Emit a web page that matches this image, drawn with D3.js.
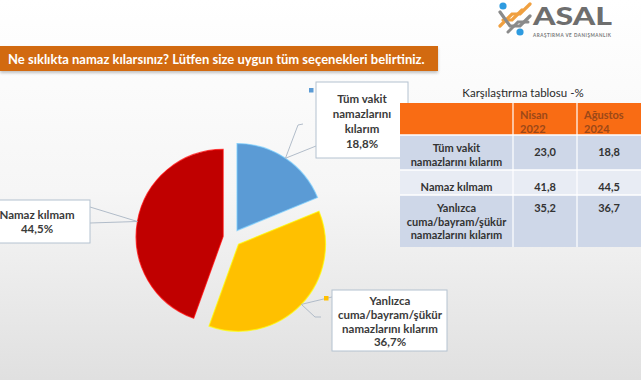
<!DOCTYPE html>
<html><head><meta charset="utf-8">
<script src="https://cdn.jsdelivr.net/npm/d3@7"></script>
<style>
html,body{margin:0;padding:0;overflow:hidden;}
svg{display:block;font-family:Lato,"Open Sans",sans-serif;}
</style></head>
<body>
<svg id="chart" width="641" height="380"></svg>
<script>
// ---- data ----
const titleText = "Ne sıklıkta namaz kılarsınız? Lütfen size uygun tüm seçenekleri belirtiniz.";
const categories = ["Tüm vakit namazlarını kılarım", "Yanlızca cuma/bayram/şükür namazlarını kılarım", "Namaz kılmam"];
const categoryLines = [["Tüm vakit","namazlarını","kılarım"],["Yanlızca","cuma/bayram/şükür","namazlarını kılarım"],["Namaz kılmam"]];
const pieValues = [18.8, 36.7, 44.5];
const sliceColors = ["#5B9BD5", "#FFC000", "#C00000"];
const tableTitle = "Karşılaştırma tablosu  -%";
const tableHeaders = [["Nisan","2022"],["Ağustos","2024"]];
const tableRowLabels = [["Tüm vakit","namazlarını kılarım"],["Namaz kılmam"],["Yanlızca","cuma/bayram/şükür","namazlarını kılarım"]];
const nisan2022 = [23.0, 41.8, 35.2];
const agustos2024 = [18.8, 44.5, 36.7];

const svg = d3.select("#chart");
const tr = d3.formatLocale({decimal: ",", thousands: ".", grouping: [3], currency: ["", ""]});
const f1 = tr.format(".1f");

// background
const defs = svg.append("defs");
const bg = defs.append("linearGradient").attr("id","bg").attr("x1",0).attr("y1",0).attr("x2",0).attr("y2",1);
bg.append("stop").attr("offset","0%").attr("stop-color","#ffffff");
bg.append("stop").attr("offset","50%").attr("stop-color","#f6f6f6");
bg.append("stop").attr("offset","100%").attr("stop-color","#e0e0e0");
svg.append("rect").attr("width",641).attr("height",380).attr("fill","url(#bg)");
const blur = defs.append("filter").attr("id","sh").attr("x","-10%").attr("y","-50%").attr("width","120%").attr("height","200%");
blur.append("feGaussianBlur").attr("stdDeviation",1.5);

// ---- logo ----
const logo = svg.append("g");
logo.append("path").attr("d","M500,26 L512,14 L520,14 L530,4").attr("stroke","#f0a040").attr("stroke-width",3.2).attr("fill","none").attr("stroke-linecap","round");
logo.append("path").attr("d","M503,20 L512,20 L522,10").attr("stroke","#f0a040").attr("stroke-width",3.2).attr("fill","none").attr("stroke-linecap","round");
logo.append("path").attr("d","M500,12 L510,26 L520,26 L530,16").attr("stroke","#8a8a8a").attr("stroke-width",3.2).attr("fill","none").attr("stroke-linecap","round");
logo.append("path").attr("d","M508,32 L518,22 L528,22").attr("stroke","#8a8a8a").attr("stroke-width",3).attr("fill","none").attr("stroke-linecap","round");
logo.append("circle").attr("cx",503).attr("cy",6).attr("r",3.6).attr("fill","#2e9be0");
logo.append("circle").attr("cx",520).attr("cy",32).attr("r",3.6).attr("fill","#2e9be0");
logo.append("text").attr("x",533).attr("y",25).attr("font-size",25).attr("font-weight",900).attr("fill","#6e6e6e")
  .attr("textLength",79).attr("lengthAdjust","spacingAndGlyphs").text("ASAL");
logo.append("text").attr("x",533).attr("y",36.5).attr("font-size",4.6).attr("font-weight","bold").attr("fill","#777")
  .attr("textLength",78).attr("lengthAdjust","spacing").text("ARAŞTIRMA VE DANIŞMANLIK");

// ---- title bar ----
svg.append("rect").attr("x",0).attr("y",48).attr("width",438).attr("height",25).attr("fill","#9a9a9a").attr("opacity",0.6).attr("filter","url(#sh)");
svg.append("rect").attr("x",0).attr("y",46).attr("width",438).attr("height",25).attr("fill","#D26A10");
const tt = svg.append("text").attr("x",8).attr("y",63.5).attr("fill","#fff").attr("font-weight","bold").attr("font-size",15).text(titleText);
function fit(sel, w){ const l = sel.node().getComputedTextLength(); const fs = parseFloat(sel.attr("font-size")); sel.attr("font-size", fs*w/l); }
fit(tt, 417);

// ---- pie ----
const cx = 232, cy = 238, R = 87, explode = 9;
const pie = d3.pie().sort(null).value(d => d).startAngle(0).endAngle(2*Math.PI);
const arcs = pie(pieValues);
const arc = d3.arc().innerRadius(0).outerRadius(R);
const pg = svg.append("g").attr("transform",`translate(${cx},${cy})`);
const mid = a => (a.startAngle + a.endAngle)/2;
const off = a => [explode*Math.sin(mid(a)), -explode*Math.cos(mid(a))];
pg.selectAll("path.sl").data(arcs).join("path").attr("class","sl")
  .attr("transform", a => `translate(${off(a)})`)
  .attr("d", arc).attr("fill", (a,i) => sliceColors[i])
  .attr("stroke", (a,i) => d3.color(sliceColors[i]).brighter(0.8)).attr("stroke-width",1.2).attr("stroke-opacity",0.7);

// tips of leaders (outer arc midpoint of each exploded slice)
const tip = a => { const o = off(a); const m = mid(a); return [cx + o[0] + R*Math.sin(m), cy + o[1] - R*Math.cos(m)]; };

// label boxes (layout)
const boxes = [
  {x:316, y:82, w:92, h:76, lines:[...categoryLines[0]], fs:11.5, lh:15, base:103, tx:362, marker:[309,88],
   leader: t => `M${298},${125} L${t[0]},${t[1]} L${316},${146} M${298},${125} L${303},${124}`},
  {x:332, y:290, w:115, h:61, lines:[...categoryLines[1]], fs:11.5, lh:13.8, base:305, tx:390, marker:[324,296],
   leader: t => `M${332},${297} L${t[0]},${t[1]} L${315},${317} L${321},${317}`},
  {x:-16, y:200, w:106, h:43, lines:[...categoryLines[2]], fs:11.5, lh:13.5, base:219, tx:37, marker:null,
   leader: t => `M${90},${207} L${t[0]},${t[1]} L${90},${223}`}
];
const lg = svg.append("g");
arcs.forEach((a,i) => {
  const b = boxes[i];
  const t = tip(a);
  lg.append("path").attr("d", b.leader(t)).attr("fill","none").attr("stroke","#a9b6c4").attr("stroke-width",0.9);
  lg.append("rect").attr("x",b.x).attr("y",b.y).attr("width",b.w).attr("height",b.h).attr("fill","#fff").attr("stroke","#b4c2d0").attr("stroke-width",1);
  if (b.marker) lg.append("rect").attr("x",b.marker[0]).attr("y",b.marker[1]).attr("width",4.5).attr("height",4.5).attr("fill",sliceColors[i]);
  const all = b.lines.concat([f1(pieValues[i]) + "%"]);
  all.forEach((s,k) => lg.append("text").attr("x",b.tx).attr("y",b.base + k*b.lh).attr("text-anchor","middle")
    .attr("font-size",b.fs).attr("font-weight","bold").attr("fill","#3a3a3a").text(s));
});

// ---- table ----
const colX = [400, 513, 577, 641];
const rowY = [103, 135, 170, 195, 247];
const tg = svg.append("g");
tg.append("text").attr("x",523).attr("y",97).attr("text-anchor","middle").attr("font-size",11.5).attr("fill","#2a2a2a").text(tableTitle);
tg.append("rect").attr("x",colX[0]).attr("y",rowY[0]).attr("width",colX[3]-colX[0]).attr("height",rowY[1]-rowY[0]).attr("fill","#F96C14");
const rowFill = ["#CED7E8","#E8ECF4","#CED7E8"];
for (let r=0;r<3;r++) tg.append("rect").attr("x",colX[0]).attr("y",rowY[r+1]).attr("width",colX[3]-colX[0]).attr("height",rowY[r+2]-rowY[r+1]).attr("fill",rowFill[r]);
[1,2].forEach(c => tg.append("line").attr("x1",colX[c]).attr("x2",colX[c]).attr("y1",rowY[0]).attr("y2",rowY[4]).attr("stroke","#fff").attr("stroke-width",1.2));
[1,2,3].forEach(r => tg.append("line").attr("x1",colX[0]).attr("x2",colX[3]).attr("y1",rowY[r]).attr("y2",rowY[r]).attr("stroke","#fff").attr("stroke-width",1.5));
tableHeaders.forEach((h,c) => h.forEach((s,k) => tg.append("text").attr("x",colX[c+1]+7).attr("y",119 + k*13.5)
  .attr("font-size",11).attr("font-weight","bold").attr("fill","#9c4818").text(s)));
const labelBase = [152, 191, 212];
const valBase = [156, 191, 212];
tableRowLabels.forEach((lines,r) => {
  lines.forEach((s,k) => tg.append("text").attr("x",(colX[0]+colX[1])/2).attr("y",labelBase[r] + k*13.5).attr("text-anchor","middle")
    .attr("font-size",11).attr("font-weight","bold").attr("fill","#333").text(s));
  [nisan2022[r], agustos2024[r]].forEach((v,c) => tg.append("text").attr("x",(colX[c+1]+colX[c+2])/2).attr("y",valBase[r]).attr("text-anchor","middle")
    .attr("font-size",11).attr("font-weight","bold").attr("fill","#333").text(f1(v)));
});
</script>
</body></html>
